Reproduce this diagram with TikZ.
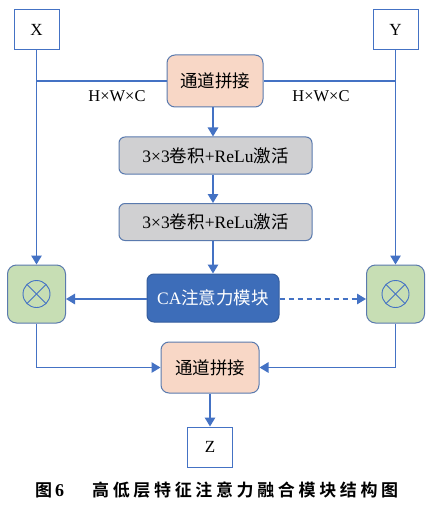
\documentclass[tikz,border=0pt]{standalone}
\usepackage{fontspec}
\setmainfont{Liberation Serif}
\newfontfamily\cjk{Noto Sans CJK SC}
\newfontfamily\cjkb{Noto Sans CJK SC Bold}
\usetikzlibrary{arrows.meta,calc}
\definecolor{lblue}{HTML}{4472C4}
\definecolor{bord}{HTML}{5A7AAE}
\definecolor{peach}{HTML}{F8D7C6}
\definecolor{grayf}{HTML}{D0D0D2}
\definecolor{cablue}{HTML}{3D6DB9}
\definecolor{greenf}{HTML}{C7DEB4}
\tikzset{
  arr/.style={draw=lblue, line width=1.2pt, -{Triangle[length=9pt,width=10.5pt]}},
  ln/.style={draw=lblue, line width=1.2pt},
  iobox/.style={draw=lblue, line width=1pt, fill=white, minimum width=45pt, minimum height=40pt, inner sep=0pt, font=\fontsize{17}{17}\selectfont},
  catbox/.style={draw=bord, line width=1pt, fill=peach, rounded corners=8pt, inner sep=0pt, font=\fontsize{17.5}{17.5}\selectfont\cjk},
  convbox/.style={draw=bord, line width=1pt, fill=grayf, rounded corners=6pt, minimum width=193pt, minimum height=37pt, inner sep=0pt, font=\fontsize{17.5}{17.5}\selectfont},
  cabox/.style={draw=cablue!85!black, line width=1pt, fill=cablue, rounded corners=7pt, minimum width=132pt, minimum height=48pt, inner sep=0pt, text=white, font=\fontsize{17.5}{17.5}\selectfont},
  gbox/.style={draw=bord, line width=1pt, fill=greenf, rounded corners=9pt, minimum width=58pt, minimum height=58pt, inner sep=0pt},
  lbl/.style={font=\fontsize{16.5}{16.5}\selectfont, inner sep=0pt},
}
\begin{document}
\begin{tikzpicture}[x=1pt,y=-1pt]
\useasboundingbox (0,0) rectangle (434,505);
\fill[white] (0,0) rectangle (434,505);
% nodes
\node[iobox] (X) at (36.5,30) {X};
\node[iobox] (Y) at (395.5,30) {Y};
\node[catbox, minimum width=96pt, minimum height=52pt] (top) at (215,81) {通道拼接};
\node[convbox] (c1) at (215.5,155.5) {3×3{\cjk 卷积}+ReLu{\cjk 激活}};
\node[convbox] (c2) at (215.5,222) {3×3{\cjk 卷积}+ReLu{\cjk 激活}};
\node[cabox] (ca) at (213,298) {CA{\cjk 注意力模块}};
\node[gbox] (g1) at (36.5,294) {};
\node[gbox] (g2) at (395.5,294) {};
\node[catbox, minimum width=98pt, minimum height=51pt] (bot) at (210,367.5) {通道拼接};
\node[iobox] (Z) at (210,447) {Z};
\node[lbl] (l1) at (117,96) {H×W×C};
\node[lbl] (l2) at (321,96) {H×W×C};
% otimes symbols
\foreach \g in {g1,g2}{
  \draw[draw=lblue, line width=0.9pt] (\g.center) circle (13.5pt);
  \draw[draw=lblue, line width=0.9pt] ($(\g.center)+(-9.55,-9.55)$) -- ($(\g.center)+(9.55,9.55)$);
  \draw[draw=lblue, line width=0.9pt] ($(\g.center)+(-9.55,9.55)$) -- ($(\g.center)+(9.55,-9.55)$);
}
% connectors
\draw[arr] (X.south) -- (g1.north);
\draw[arr] (Y.south) -- (g2.north);
\draw[ln] (X.south |- top.west) -- (top.west);
\draw[ln] (Y.south |- top.east) -- (top.east);
\draw[arr] (top.south -| ca.north) -- (c1.north -| ca.north);
\draw[arr] (c1.south -| ca.north) -- (c2.north -| ca.north);
\draw[arr] (c2.south -| ca.north) -- (ca.north);
\draw[arr] (ca.west |- 0,299) -- (g1.east |- 0,299);
\draw[arr, dashed, dash pattern=on 5pt off 4pt] (ca.east |- 0,299) -- (g2.west |- 0,299);
\draw[arr] (g1.south) |- (bot.west);
\draw[arr] (g2.south) |- (bot.east);
\draw[arr] (bot.south) -- (Z.north);
% caption
\node[inner sep=0pt, anchor=west, font=\fontsize{17}{17}\selectfont\cjkb] (cap1) at (35,490) {图\kern3pt{\rmfamily\bfseries\fontsize{18}{18}\selectfont 6}};
\node[inner sep=0pt, anchor=west, font=\fontsize{17}{17}\selectfont\cjkb] (cap2) at (92,490) {\makebox[306pt][s]{高\hfill 低\hfill 层\hfill 特\hfill 征\hfill 注\hfill 意\hfill 力\hfill 融\hfill 合\hfill 模\hfill 块\hfill 结\hfill 构\hfill 图}};
\end{tikzpicture}
\end{document}
